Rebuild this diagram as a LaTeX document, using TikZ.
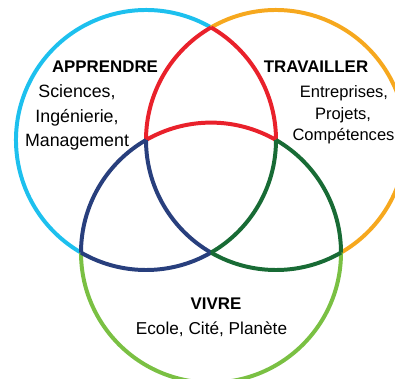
\documentclass[tikz,border=0pt]{standalone}
\usepackage{fontspec}
\setmainfont{Liberation Sans}
\usepackage{tikz}
\definecolor{cyanA}{RGB}{29,192,238}
\definecolor{orangeB}{RGB}{246,168,30}
\definecolor{greenC}{RGB}{122,192,67}
\definecolor{redAB}{RGB}{233,33,43}
\definecolor{blueAC}{RGB}{40,63,125}
\definecolor{greenBC}{RGB}{24,107,53}
\tikzstyle{ring} = [line width=3.4pt]
\tikzstyle{title} = [inner sep=0pt, anchor=base, font=\fontsize{14.4}{17}\selectfont\bfseries]
\tikzstyle{txt} = [inner sep=0pt, anchor=base, font=\fontsize{15.2}{18}\selectfont]
\tikzstyle{txt_r} = [txt, font=\fontsize{14.1}{17}\selectfont]
\tikzstyle{txt_b} = [txt, font=\fontsize{14.7}{17}\selectfont]

\begin{document}
\begin{tikzpicture}[x=0.03cm, y=0.03cm]
		\useasboundingbox (0,0) rectangle (395,-378);
		\clip (0,0) rectangle (395,-378);
		\def\rad{130}
		\coordinate (A) at (146,-140);
		\coordinate (B) at (276,-140);
		\coordinate (C) at (211,-252.6);
		
		\foreach \c/\a/\b/\col in {A/60/240/cyanA, B/-60/120/orangeB, C/180/360/greenC,
			A/0/60/redAB, B/120/180/redAB, C/60/120/redAB,
			A/-120/-60/blueAC, B/180/240/blueAC, C/120/180/blueAC,
			A/-60/0/greenBC, B/240/300/greenBC, C/0/60/greenBC}
			\draw [ring, \col] (\c) ++(\a:\rad) arc [start angle=\a, end angle=\b, radius=\rad];
		
		\node [title] (apprendre) at (105,-72) {APPRENDRE};
		\node [txt] (sciences) at (77,-97) {Sciences,};
		\node [txt] (ingenierie) at (77,-122) {Ingénierie,};
		\node [txt] (management) at (77,-146) {Management};
		
		\node [title] (travailler) at (316,-72) {TRAVAILLER};
		\node [txt_r] (entreprises) at (344,-97) {Entreprises,};
		\node [txt_r] (projets) at (343,-119.5) {Projets,};
		\node [txt_r] (competences) at (343.5,-140.5) {Compétences};
		
		\node [title] (vivre) at (216,-309) {VIVRE};
		\node [txt_b] (ecole) at (211.5,-334) {Ecole, Cité, Planète};
\end{tikzpicture}
\end{document}
